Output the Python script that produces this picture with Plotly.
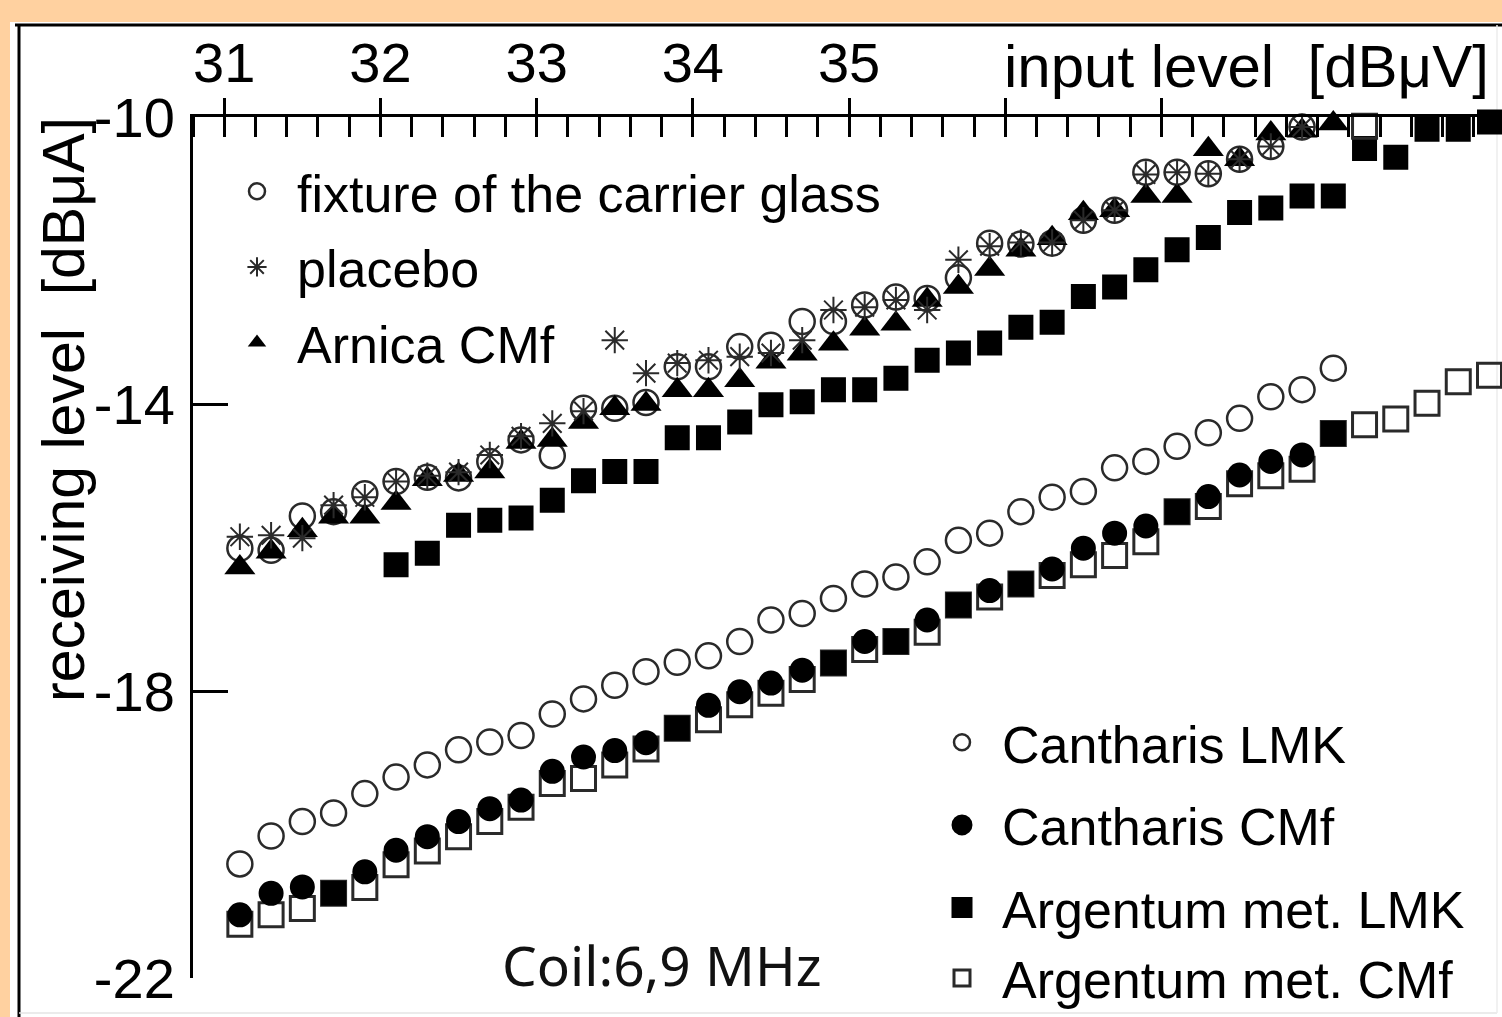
import plotly.graph_objects as go

# ---------------- data ----------------
input_level = [31.1, 31.3, 31.5, 31.7, 31.9, 32.1, 32.3, 32.5, 32.7, 32.9,
               33.1, 33.3, 33.5, 33.7, 33.9, 34.1, 34.3, 34.5, 34.7, 34.9,
               35.1, 35.3, 35.5, 35.7, 35.9, 36.1, 36.3, 36.5, 36.7, 36.9,
               37.1, 37.3, 37.5, 37.7, 37.9, 38.1, 38.3, 38.5, 38.7, 38.9, 39.1]

fixture_carrier_glass = [-16.01, -16.04, -15.56, -15.50, -15.25, -15.08, -15.02, -15.03, -14.80, -14.50,
                         -14.72, -14.06, -14.06, -13.98, -13.48, -13.48, -13.20, -13.18, -12.85, -12.85,
                         -12.62, -12.51, -12.53, -12.24, -11.76, -11.77, -11.76, -11.44, -11.30, -10.77,
                         -10.77, -10.79, -10.59, -10.41, -10.14]

placebo = [-15.85, -15.83, -15.87, -15.41, -15.30, -15.08, -15.00, -14.95, -14.71, -14.45,
           -14.27, -14.10, -13.11, -13.57, -13.43, -13.39, -13.34, -13.29, -13.11, -12.69,
           -12.65, -12.55, -12.69, -11.99, -11.80, -11.75, -11.75, -11.44, -11.30, -10.80,
           -10.77, -10.79, -10.59, -10.41, -10.14, -9.90]

arnica_cmf = [-16.28, -16.06, -15.76, -15.57, -15.57, -15.38, -15.05, -14.99, -14.94, -14.53,
              -14.50, -14.25, -14.06, -14.00, -13.81, -13.81, -13.67, -13.41, -13.30, -13.16,
              -12.95, -12.88, -12.55, -12.37, -12.12, -11.85, -11.69, -11.34, -11.30, -11.10,
              -11.10, -10.45, -10.59, -10.23, -10.19, -10.09]

argentum_lmk_level = input_level[5:]
argentum_lmk = [-16.24, -16.08, -15.69, -15.62, -15.59, -15.34, -15.07, -14.94, -14.94, -14.47,
                -14.47, -14.25, -14.01, -13.97, -13.80, -13.80, -13.64, -13.39, -13.29, -13.15,
                -12.93, -12.86, -12.50, -12.37, -12.13, -11.85, -11.68, -11.33, -11.27, -11.10,
                -11.10, -10.44, -10.56, -10.17, -10.17, -10.07]

cantharis_lmk = [-20.41, -20.02, -19.82, -19.70, -19.43, -19.20, -19.03, -18.82, -18.71, -18.62,
                 -18.32, -18.11, -17.92, -17.73, -17.60, -17.51, -17.31, -17.01, -16.92, -16.71,
                 -16.51, -16.41, -16.20, -15.90, -15.80, -15.50, -15.30, -15.22, -14.89, -14.80,
                 -14.59, -14.40, -14.20, -13.90, -13.80, -13.50]

cantharis_cmf = [-21.12, -20.82, -20.73, -20.82, -20.52, -20.22, -20.03, -19.82, -19.64, -19.52,
                 -19.12, -18.92, -18.83, -18.72, -18.52, -18.20, -18.01, -17.89, -17.71, -17.61,
                 -17.31, -17.31, -17.01, -16.80, -16.60, -16.51, -16.30, -16.01, -15.80, -15.70,
                 -15.50, -15.29, -14.99, -14.80, -14.71, -14.41]

argentum_cmf = [-21.25, -21.12, -21.03, -20.82, -20.74, -20.42, -20.23, -20.03, -19.82, -19.62,
                -19.29, -19.22, -19.03, -18.81, -18.52, -18.40, -18.19, -18.03, -17.84, -17.61,
                -17.42, -17.31, -17.18, -16.80, -16.69, -16.51, -16.39, -16.24, -16.11, -15.92,
                -15.50, -15.43, -15.11, -15.00, -14.91, -14.41, -14.29, -14.21, -13.99, -13.69,
                -13.60]

argentum_cmf_upper_level = [38.3]
argentum_cmf_upper = [-10.13]

x_tick_values = [31, 32, 33, 34, 35, 36, 37]
x_tick_labels = ["31", "32", "33", "34", "35", "", ""]
y_tick_values = [-22, -18, -14, -10]
y_tick_labels = ["-22", "-18", "-14", "-10"]

# ---------------- layout helpers ----------------
W, H = 1502, 1017
L, R, T, B = 193, 0, 117, 39
PW, PH = W - L - R, H - T - B


def px2x(px):
    return (px - L) / PW


def py2y(py):
    return (H - B - py) / PH


FONT = "Liberation Sans, Arial, Helvetica, sans-serif"
BLACK = "#000000"
OUTLINE = "#2a2a2a"
ORANGE = "#FFD1A0"

fig = go.Figure()

# upper group
fig.add_trace(go.Scatter(
    x=argentum_lmk_level, y=argentum_lmk, mode="markers", name="Argentum met. LMK",
    legend="legend2", legendgroup="argentum", legendrank=3, cliponaxis=False,
    marker=dict(symbol="square", size=20, color=BLACK, line=dict(width=5, color=BLACK))))
fig.add_trace(go.Scatter(
    x=argentum_cmf_upper_level, y=argentum_cmf_upper, mode="markers", name="Argentum met. CMf",
    legend="legend2", legendgroup="argentum", showlegend=False, cliponaxis=False,
    marker=dict(symbol="square-open", size=24, color=OUTLINE, line=dict(width=3, color=OUTLINE))))
fig.add_trace(go.Scatter(
    x=input_level[:len(fixture_carrier_glass)], y=fixture_carrier_glass, mode="markers",
    name="fixture of the carrier glass", legend="legend", legendgroup="fixture", legendrank=1,
    cliponaxis=False,
    marker=dict(symbol="circle-open", size=25, color=OUTLINE, line=dict(width=2.5, color=OUTLINE))))
fig.add_trace(go.Scatter(
    x=input_level[:len(arnica_cmf)], y=arnica_cmf, mode="markers", name="Arnica CMf",
    legend="legend", legendgroup="arnica", legendrank=3, cliponaxis=False,
    marker=dict(symbol="triangle-up", size=27, color=BLACK, line=dict(width=0))))
fig.add_trace(go.Scatter(
    x=input_level[:len(placebo)], y=placebo, mode="markers", name="placebo",
    legend="legend", legendgroup="placebo", legendrank=2, cliponaxis=False,
    marker=dict(symbol="asterisk-open", size=22, color=OUTLINE, line=dict(width=2, color=OUTLINE))))

# lower group
fig.add_trace(go.Scatter(
    x=input_level[:len(argentum_cmf)], y=argentum_cmf, mode="markers", name="Argentum met. CMf",
    legend="legend2", legendgroup="argentum", legendrank=4, cliponaxis=False,
    marker=dict(symbol="square-open", size=24, color=OUTLINE, line=dict(width=3, color=OUTLINE))))
fig.add_trace(go.Scatter(
    x=input_level[:len(cantharis_lmk)], y=cantharis_lmk, mode="markers", name="Cantharis LMK",
    legend="legend2", legendgroup="cantharis_lmk", legendrank=1, cliponaxis=False,
    marker=dict(symbol="circle-open", size=25, color=OUTLINE, line=dict(width=2.5, color=OUTLINE))))
cmf_symbols = ["square" if abs(c - a) < 0.005 else "circle"
               for c, a in zip(cantharis_cmf, argentum_cmf)]
fig.add_trace(go.Scatter(
    x=input_level[:len(cantharis_cmf)], y=cantharis_cmf, mode="markers", name="Cantharis CMf",
    legend="legend2", legendgroup="cantharis_cmf", legendrank=2, cliponaxis=False,
    marker=dict(symbol=cmf_symbols, size=20, color=BLACK, line=dict(width=5, color=BLACK))))

# ---------------- background panel ----------------
shapes = [
    dict(type="rect", xref="paper", yref="paper", layer="below",
         x0=px2x(-5), x1=px2x(W + 5), y0=py2y(22), y1=py2y(-5),
         fillcolor=ORANGE, line=dict(width=0)),
    dict(type="rect", xref="paper", yref="paper", layer="below",
         x0=px2x(-5), x1=px2x(10), y0=py2y(H + 5), y1=py2y(-5),
         fillcolor=ORANGE, line=dict(width=0)),
    dict(type="line", xref="paper", yref="paper", layer="below",
         x0=px2x(15), x1=px2x(W + 5), y0=py2y(25), y1=py2y(25),
         line=dict(color=BLACK, width=3)),
    dict(type="line", xref="paper", yref="paper", layer="below",
         x0=px2x(19), x1=px2x(19), y0=py2y(25), y1=py2y(H + 5),
         line=dict(color=BLACK, width=3)),
    dict(type="line", xref="paper", yref="paper", layer="below",
         x0=px2x(19), x1=px2x(1497), y0=py2y(1013), y1=py2y(1013),
         line=dict(color="#e4e4e4", width=1.5)),
    dict(type="line", xref="paper", yref="paper", layer="below",
         x0=px2x(1497), x1=px2x(1497), y0=py2y(25), y1=py2y(1013),
         line=dict(color="#ececec", width=1.5)),
]

annotations = [
    dict(text="input level  [dBμV]", xref="paper", yref="paper",
         x=px2x(1491), y=py2y(66), xanchor="right", yanchor="middle", showarrow=False,
         font=dict(family=FONT, size=60, color=BLACK)),
    dict(text="receiving level  [dBμA]", xref="paper", yref="paper",
         x=px2x(64), y=py2y(410), xanchor="center", yanchor="middle", textangle=-90,
         showarrow=False, font=dict(family=FONT, size=59, color=BLACK)),
    dict(text="Coil:6,9 MHz", xref="paper", yref="paper",
         x=px2x(662), y=py2y(964), xanchor="center", yanchor="middle", showarrow=False,
         font=dict(family="Noto Sans, Open Sans, sans-serif", size=55, color="#111111")),
]

legend_font = dict(family=FONT, size=52, color=BLACK)

fig.update_layout(
    width=W, height=H, autosize=False,
    margin=dict(l=L, r=R, t=T, b=B, pad=0, autoexpand=False),
    paper_bgcolor="white",
    plot_bgcolor="rgba(0,0,0,0)",
    font=dict(family=FONT, color=BLACK),
    shapes=shapes,
    annotations=annotations,
    showlegend=True,
    legend=dict(x=px2x(217), y=py2y(151), xanchor="left", yanchor="top",
                font=legend_font, itemwidth=70, tracegroupgap=5, traceorder="grouped",
                bgcolor="rgba(0,0,0,0)", borderwidth=0, itemsizing="trace"),
    legend2=dict(x=px2x(922), y=py2y(702), xanchor="left", yanchor="top",
                 font=legend_font, itemwidth=70, tracegroupgap=12, traceorder="grouped",
                 bgcolor="rgba(0,0,0,0)", borderwidth=0, itemsizing="trace"),
    xaxis=dict(
        side="top", range=[30.8, 39.18], showgrid=False, zeroline=False,
        showline=True, linecolor=BLACK, linewidth=3,
        tickmode="array", tickvals=x_tick_values, ticktext=x_tick_labels,
        ticks="outside", ticklen=16, tickwidth=2.5, tickcolor=BLACK,
        ticklabelstandoff=-6,
        tickfont=dict(family=FONT, size=56, color=BLACK),
        minor=dict(ticks="inside", tick0=31, dtick=0.2, ticklen=20, tickwidth=2.5,
                   tickcolor=BLACK, showgrid=False),
    ),
    yaxis=dict(
        range=[-22, -10], showgrid=False, zeroline=False,
        showline=True, linecolor=BLACK, linewidth=3,
        tickmode="array", tickvals=y_tick_values, ticktext=y_tick_labels,
        ticks="inside", ticklen=35, tickwidth=2.5, tickcolor=BLACK,
        ticklabelstandoff=4,
        tickfont=dict(family=FONT, size=56, color=BLACK),
    ),
)

fig.write_html("out.html", config={"displayModeBar": False, "responsive": False},
               post_script="document.body.style.margin='0';document.body.style.overflow='hidden';")
